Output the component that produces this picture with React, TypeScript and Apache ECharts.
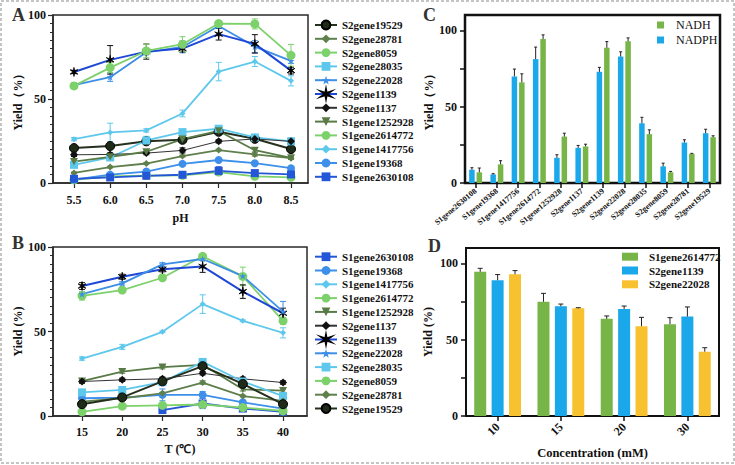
import React, { useEffect, useRef } from 'react';
import * as echarts from 'echarts';

const FONT = 'Liberation Serif';

// ---------- Panel A (pH) ----------
const phValues = [5.5, 6.0, 6.5, 7.0, 7.5, 8.0, 8.5];
const panelALegend = ['S2gene19529', 'S2gene28781', 'S2gene8059', 'S2gene28035', 'S2gene22028', 'S2gene1139', 'S2gene1137', 'S1gene1252928', 'S1gene2614772', 'S1gene1417756', 'S1gene19368', 'S1gene2630108'];
const phS2gene19529 = [20.8, 22.0, 24.8, 25.7, 30.5, 26.3, 20.2];
const phS2gene28781 = [6.0, 9.5, 11.6, 16.0, 19.6, 17.0, 14.8];
const phS2gene8059 = [1.8, 4.0, 4.4, 4.6, 6.5, 4.0, 3.4];
const phS2gene28035 = [10.8, 15.2, 25.3, 30.3, 32.3, 27.1, 24.8];
const phS2gene22028 = [58.2, 63.0, 77.8, 81.0, 93.5, 81.2, 72.7];
const phS2gene1139 = [66.1, 73.3, 78.2, 80.0, 88.6, 82.8, 66.9];
const phS2gene1137 = [16.8, 17.0, 17.8, 19.4, 24.8, 26.2, 24.8];
const phS1gene1252928 = [12.7, 15.5, 18.6, 26.1, 31.0, 19.5, 15.0];
const phS1gene2614772 = [57.8, 68.7, 78.6, 82.6, 94.9, 94.7, 76.0];
const phS1gene1417756 = [26.1, 30.1, 31.3, 41.4, 66.3, 72.3, 60.8];
const phS1gene19368 = [2.0, 5.0, 6.8, 11.4, 13.7, 11.8, 8.8];
const phS1gene2630108 = [2.5, 3.3, 4.3, 4.9, 7.2, 5.9, 5.1];
const phErrS2gene19529 = [1.5, 1.5, 1, 1, 1, 1.5, 1.5];
const phErrS2gene28781 = [0.5, 0.5, 0.5, 0.5, 0.5, 1, 0.5];
const phErrS2gene8059 = [0.5, 0.5, 0.5, 0.5, 1, 0.5, 0.5];
const phErrS2gene28035 = [1, 1, 2.5, 1.5, 1.5, 1.5, 2];
const phErrS2gene22028 = [1.5, 2.5, 1.5, 3.5, 1.5, 3.5, 1.5];
const phErrS2gene1139 = [1, 8.5, 4.5, 2, 3.5, 5.5, 2];
const phErrS2gene1137 = [1, 1, 1, 1.5, 1, 1, 1];
const phErrS1gene1252928 = [1, 1, 1, 1.5, 1.5, 1, 1];
const phErrS1gene2614772 = [1.5, 3, 4, 4.5, 1.5, 3, 6.5];
const phErrS1gene1417756 = [1, 5.5, 1, 2, 5.5, 3, 3];
const phErrS1gene19368 = [0.5, 0.5, 1, 1, 1, 1, 1];
const phErrS1gene2630108 = [1, 1, 1, 1, 2.5, 1, 1];

// ---------- Panel B (temperature) ----------
const tempValues = [15, 20, 25, 30, 35, 40];
const panelBLegend = ['S1gene2630108', 'S1gene19368', 'S1gene1417756', 'S1gene2614772', 'S1gene1252928', 'S2gene1137', 'S2gene1139', 'S2gene22028', 'S2gene28035', 'S2gene8059', 'S2gene28781', 'S2gene19529'];
const tS1gene2630108 = [null, null, 3.5, 7.4, 4.4, 2.5];
const tS1gene19368 = [10.5, 10.9, 12.5, 12.5, 8.1, 4.4];
const tS1gene1417756 = [34.0, 40.9, 49.8, 66.2, 56.3, 49.2];
const tS1gene2614772 = [71.1, 74.5, 81.8, 94.5, 82.6, 56.3];
const tS1gene1252928 = [20.6, 26.3, 28.9, 30.3, 15.8, 15.0];
const tS2gene1137 = [20.4, 21.4, 22.0, 25.3, 22.0, 19.8];
const tS2gene1139 = [76.9, 82.4, 86.8, 88.5, 73.6, 60.8];
const tS2gene22028 = [72.1, 78.5, 89.7, 92.9, 82.8, 61.8];
const tS2gene28035 = [14.0, 15.4, 20.0, 32.0, 20.4, 11.8];
const tS2gene8059 = [2.5, 5.8, 6.3, 6.8, 5.0, 3.0];
const tS2gene28781 = [8.5, 10.5, 13.4, 19.8, 11.8, 8.9];
const tS2gene19529 = [7.0, 11.0, 20.5, 29.5, 19.0, 7.0];
const tErrS1gene2630108 = [0, 0, 1, 3, 1, 1];
const tErrS1gene19368 = [1, 1, 3.5, 2, 1, 1];
const tErrS1gene1417756 = [1, 1.5, 0.5, 5.5, 0.5, 3];
const tErrS1gene2614772 = [2.5, 1.5, 1, 1.5, 5.5, 2];
const tErrS1gene1252928 = [1, 1, 1, 1, 1, 1];
const tErrS2gene1137 = [1, 1, 1, 1, 1, 1];
const tErrS2gene1139 = [2, 1.5, 1.5, 3.5, 4, 3];
const tErrS2gene22028 = [1, 1, 1, 1, 1.5, 6];
const tErrS2gene28035 = [1, 1, 1, 2, 1, 2];
const tErrS2gene8059 = [0.5, 0.5, 0.5, 0.5, 0.5, 0.5];
const tErrS2gene28781 = [0.5, 0.5, 0.5, 1, 0.5, 0.5];
const tErrS2gene19529 = [1, 1, 1, 1.5, 1, 1];

// ---------- Panel C (cofactor) ----------
const cGenes = ['S1gene2630108', 'S1gene19368', 'S1gene1417756', 'S1gene2614772', 'S1gene1252928', 'S2gene1137', 'S2gene1139', 'S2gene22028', 'S2gene28035', 'S2gene8059', 'S2gene28781', 'S2gene19529'];
const cNADPH = [8.7, 5.6, 69.8, 81.1, 16.5, 23.0, 72.8, 82.8, 39.1, 10.9, 26.5, 32.6];
const cNADPHErr = [1.3, 0.5, 4.8, 7.9, 2.0, 1.6, 2.9, 3.1, 3.9, 2.1, 1.8, 2.6];
const cNADH = [7.0, 12.2, 65.9, 94.3, 30.4, 23.9, 88.5, 92.8, 32.0, 7.0, 19.1, 30.0];
const cNADHErr = [2.8, 2.4, 5.6, 2.7, 2.2, 1.5, 4.1, 2.2, 2.8, 0.6, 0.3, 0.9];

// ---------- Panel D (concentration) ----------
const dConc = ['10', '15', '20', '30'];
const dLegend = ['S1gene2614772', 'S2gene1139', 'S2gene22028'];
const dS1gene2614772 = [94.4, 74.8, 63.6, 60.1];
const dS1gene2614772Err = [2.3, 5.5, 1.9, 4.3];
const dS2gene1139 = [88.9, 71.8, 70.1, 65.1];
const dS2gene1139Err = [3.7, 1.5, 1.9, 6.3];
const dS2gene22028 = [92.8, 70.5, 58.8, 42.1];
const dS2gene22028Err = [2.4, 0.4, 5.8, 2.6];

const phData: Record<string, (number | null)[][]> = {
  S2gene19529: [phS2gene19529, phErrS2gene19529],
  S2gene28781: [phS2gene28781, phErrS2gene28781],
  S2gene8059: [phS2gene8059, phErrS2gene8059],
  S2gene28035: [phS2gene28035, phErrS2gene28035],
  S2gene22028: [phS2gene22028, phErrS2gene22028],
  S2gene1139: [phS2gene1139, phErrS2gene1139],
  S2gene1137: [phS2gene1137, phErrS2gene1137],
  S1gene1252928: [phS1gene1252928, phErrS1gene1252928],
  S1gene2614772: [phS1gene2614772, phErrS1gene2614772],
  S1gene1417756: [phS1gene1417756, phErrS1gene1417756],
  S1gene19368: [phS1gene19368, phErrS1gene19368],
  S1gene2630108: [phS1gene2630108, phErrS1gene2630108],
};
const tData: Record<string, (number | null)[][]> = {
  S1gene2630108: [tS1gene2630108, tErrS1gene2630108],
  S1gene19368: [tS1gene19368, tErrS1gene19368],
  S1gene1417756: [tS1gene1417756, tErrS1gene1417756],
  S1gene2614772: [tS1gene2614772, tErrS1gene2614772],
  S1gene1252928: [tS1gene1252928, tErrS1gene1252928],
  S2gene1137: [tS2gene1137, tErrS2gene1137],
  S2gene1139: [tS2gene1139, tErrS2gene1139],
  S2gene22028: [tS2gene22028, tErrS2gene22028],
  S2gene28035: [tS2gene28035, tErrS2gene28035],
  S2gene8059: [tS2gene8059, tErrS2gene8059],
  S2gene28781: [tS2gene28781, tErrS2gene28781],
  S2gene19529: [tS2gene19529, tErrS2gene19529],
};

const ASTERISK = 'path://M5 0 L5.65 3.87 L9.33 2.5 L6.3 5 L9.33 7.5 L5.65 6.13 L5 10 L4.35 6.13 L0.67 7.5 L3.7 5 L0.67 2.5 L4.35 3.87 Z';
const STAR = 'path://M5 0 L6.2 3.6 L10 3.6 L7 5.9 L8.1 9.5 L5 7.3 L1.9 9.5 L3 5.9 L0 3.6 L3.8 3.6 Z';
const TRI_DOWN = 'path://M0 0 L10 0 L5 9 Z';

const geneStyle: Record<string, any> = {
  S2gene19529: { symbol: 'circle', size: 9, fill: '#1f2b19', border: '#000', bw: 1, line: '#26301f', lw: 2, err: '#222' },
  S2gene28781: { symbol: 'diamond', size: 7, fill: '#5f7f4c', border: '#5f7f4c', bw: 0, line: '#5f7f4c', lw: 1.8, err: '#5f7f4c' },
  S2gene8059: { symbol: 'circle', size: 9, fill: '#7dd16b', border: '#7dd16b', bw: 0, line: '#7dd16b', lw: 1.8, err: '#7dd16b' },
  S2gene28035: { symbol: 'rect', size: 8, fill: '#5ec8ec', border: '#5ec8ec', bw: 0, line: '#5ec8ec', lw: 1.8, err: '#5ec8ec' },
  S2gene22028: { symbol: STAR, size: 7, fill: '#3d8ee6', border: '#3d8ee6', bw: 0, line: '#3d8ee6', lw: 1.8, err: '#3d8ee6' },
  S2gene1139: { symbol: ASTERISK, size: 9, fill: '#000', border: '#000', bw: 0.8, line: '#1f48d6', lw: 2, err: '#111' },
  S2gene1137: { symbol: 'diamond', size: 8, fill: '#111', border: '#000', bw: 0, line: '#333', lw: 1, err: '#111' },
  S1gene1252928: { symbol: TRI_DOWN, size: 8, fill: '#587a46', border: '#587a46', bw: 0, line: '#587a46', lw: 1.8, err: '#587a46' },
  S1gene2614772: { symbol: 'circle', size: 9, fill: '#7dd16b', border: '#7dd16b', bw: 0, line: '#7dd16b', lw: 1.8, err: '#7dd16b' },
  S1gene1417756: { symbol: 'diamond', size: 6, fill: '#5ec8ec', border: '#5ec8ec', bw: 0, line: '#5ec8ec', lw: 1.8, err: '#5ec8ec' },
  S1gene19368: { symbol: 'circle', size: 8, fill: '#3d8fe9', border: '#3d8fe9', bw: 0, line: '#3d8fe9', lw: 1.8, err: '#3d8fe9' },
  S1gene2630108: { symbol: 'rect', size: 8, fill: '#2456d8', border: '#2456d8', bw: 0, line: '#2456d8', lw: 1.8, err: '#2456d8' },
};

const GREEN = '#78b548';
const BLUE = '#1aa8ea';
const YELLOW = '#f7c12f';
const AXIS = '#2a2a2a';
const FS = 12;
const LEG_FS = 11;

const boldText = { fontFamily: FONT, fontWeight: 'bold', fontSize: FS, color: '#111' };

function buildLineSeries(prefix: string, order: string[], xs: number[], table: Record<string, (number | null)[][]>, g: number) {
  const series: any[] = [];
  const errData: any[] = [];
  const errColors: string[] = [];
  order.forEach((name) => {
    const st = geneStyle[name];
    const [ys, es] = table[name];
    const pts: any[] = [];
    xs.forEach((x, i) => {
      const y = ys[i];
      if (y === null || y === undefined) return;
      pts.push([x, y]);
      errData.push([x, y, es[i] as number]);
      errColors.push(st.err);
    });
    series.push({
      type: 'line',
      name: prefix + name,
      xAxisIndex: g,
      yAxisIndex: g,
      data: pts,
      symbol: st.symbol,
      symbolSize: st.size,
      symbolKeepAspect: true,
      showAllSymbol: true,
      lineStyle: { color: st.line, width: st.lw },
      itemStyle: { color: st.fill, borderColor: st.border, borderWidth: st.bw },
      emphasis: { disabled: true },
      z: 3,
    });
  });
  series.push({
    type: 'custom',
    name: prefix + 'err',
    xAxisIndex: g,
    yAxisIndex: g,
    coordinateSystem: 'cartesian2d',
    encode: { x: 0, y: 1 },
    data: errData,
    silent: true,
    z: 2,
    renderItem: (params: any, api: any) => {
      const x = api.value(0), y = api.value(1), e = api.value(2);
      const c = errColors[params.dataIndex];
      const p1 = api.coord([x, y + e]);
      const p2 = api.coord([x, Math.max(0, y - e)]);
      const hw = 3;
      const st = { stroke: c, lineWidth: 1 };
      return {
        type: 'group',
        children: [
          { type: 'line', shape: { x1: p1[0], y1: p1[1], x2: p2[0], y2: p2[1] }, style: st },
          { type: 'line', shape: { x1: p1[0] - hw, y1: p1[1], x2: p1[0] + hw, y2: p1[1] }, style: st },
          { type: 'line', shape: { x1: p2[0] - hw, y1: p2[1], x2: p2[0] + hw, y2: p2[1] }, style: st },
        ],
      };
    },
  });
  return series;
}

function barErrSeries(g: number, groups: { values: number[]; errs: number[] }[], barWidth: number, gapRatio: number, capHalf: number) {
  const data: any[] = [];
  groups.forEach((grp, slot) => {
    grp.values.forEach((v, i) => data.push([i, v, grp.errs[i], slot]));
  });
  const n = groups.length;
  const gap = barWidth * gapRatio;
  const total = n * barWidth + (n - 1) * gap;
  return {
    type: 'custom',
    xAxisIndex: g,
    yAxisIndex: g,
    coordinateSystem: 'cartesian2d',
    encode: { x: 0, y: 1 },
    data,
    silent: true,
    z: 4,
    renderItem: (params: any, api: any) => {
      const i = api.value(0), v = api.value(1), e = api.value(2), slot = api.value(3);
      const base = api.coord([i, v]);
      const top = api.coord([i, v + e]);
      const off = -total / 2 + barWidth / 2 + slot * (barWidth + gap);
      const x = base[0] + off;
      const st = { stroke: '#222', lineWidth: 1 };
      return {
        type: 'group',
        children: [
          { type: 'line', shape: { x1: x, y1: base[1], x2: x, y2: top[1] }, style: st },
          { type: 'line', shape: { x1: x - capHalf, y1: top[1], x2: x + capHalf, y2: top[1] }, style: st },
        ],
      };
    },
  };
}

function lineLegend(prefix: string, names: string[], top: number) {
  return {
    orient: 'vertical',
    left: 314,
    top,
    padding: 0,
    itemWidth: 22,
    itemHeight: 11,
    itemGap: 1.8,
    data: names.map((n) => prefix + n),
    formatter: (n: string) => n.slice(prefix.length),
    textStyle: { ...boldText, fontSize: LEG_FS, lineHeight: 12 },
    selectedMode: false,
  };
}

const valueYAxis = (g: number, name: string, gap: number) => ({
  type: 'value',
  gridIndex: g,
  min: 0,
  max: 100,
  interval: 50,
  name,
  nameLocation: 'middle',
  nameRotate: 90,
  nameGap: gap,
  nameTextStyle: boldText,
  splitLine: { show: false },
  axisLine: { show: true, lineStyle: { color: AXIS, width: 1.5 } },
  axisTick: { show: true, length: 5, lineStyle: { color: AXIS, width: 1.2 } },
  minorTick: { show: true, splitNumber: 10, length: 3, lineStyle: { color: AXIS, width: 1 } },
  minorSplitLine: { show: false },
  axisLabel: { ...boldText, margin: 7 },
});

const barYAxis = (g: number, name: string, gap: number) => ({
  type: 'value',
  gridIndex: g,
  min: 0,
  max: 110,
  name,
  nameLocation: 'middle',
  nameRotate: 90,
  nameGap: gap,
  nameTextStyle: boldText,
  splitLine: { show: false },
  axisLine: { show: true, lineStyle: { color: '#111', width: 2 } },
  axisTick: { show: true, length: 5, customValues: [0, 25, 50, 75, 100], lineStyle: { color: '#111', width: 1.5 } },
  axisLabel: { ...boldText, margin: 8, customValues: [0, 50, 100] },
});

export default function App() {
  const ref = useRef<HTMLDivElement>(null);
  useEffect(() => {
    document.body.style.margin = '0';
    const chart = echarts.init(ref.current!, undefined, { renderer: 'svg' });
    const seriesA = buildLineSeries('A:', panelALegend, phValues, phData, 0);
    const seriesB = buildLineSeries('B:', panelBLegend, tempValues, tData, 1);
    const option: any = {
      animation: false,
      backgroundColor: '#fff',
      textStyle: { fontFamily: FONT },
      grid: [
        { left: 53, top: 15, width: 255, height: 168, show: true, borderColor: AXIS, borderWidth: 1.5, backgroundColor: 'transparent' },
        { left: 53, top: 247, width: 254, height: 169, show: true, borderColor: AXIS, borderWidth: 1.5, backgroundColor: 'transparent' },
        { left: 465, top: 15, width: 255, height: 168, show: true, borderColor: '#111', borderWidth: 2.5, backgroundColor: 'transparent' },
        { left: 466, top: 248, width: 253, height: 168, show: true, borderColor: '#111', borderWidth: 2, backgroundColor: 'transparent' },
      ],
      xAxis: [
        {
          type: 'value', gridIndex: 0, min: 5.21, max: 8.735,
          name: 'pH', nameLocation: 'middle', nameGap: 29, nameTextStyle: boldText,
          splitLine: { show: false },
          axisLine: { show: true, lineStyle: { color: AXIS, width: 1.5 } },
          axisTick: { show: true, length: 5, customValues: phValues, lineStyle: { color: AXIS, width: 1.2 } },
          axisLabel: { ...boldText, margin: 11, customValues: phValues, formatter: (v: number) => v.toFixed(1) },
        },
        {
          type: 'value', gridIndex: 1, min: 11.39, max: 42.98,
          name: 'T (℃)', nameLocation: 'middle', nameGap: 27, nameTextStyle: boldText,
          splitLine: { show: false },
          axisLine: { show: true, lineStyle: { color: AXIS, width: 1.5 } },
          axisTick: { show: true, length: 5, customValues: tempValues, lineStyle: { color: AXIS, width: 1.2 } },
          axisLabel: { ...boldText, margin: 10, customValues: tempValues },
        },
        {
          type: 'category', gridIndex: 2, data: cGenes,
          axisLine: { show: true, lineStyle: { color: '#111', width: 2 } },
          axisTick: { show: true, alignWithLabel: true, length: 5, lineStyle: { color: '#111', width: 1.5 } },
          axisLabel: { ...boldText, fontSize: 8, rotate: 40, interval: 0, margin: 7 },
        },
        {
          type: 'category', gridIndex: 3, data: dConc,
          name: 'Concentration (mM)', nameLocation: 'middle', nameGap: 30, nameTextStyle: { ...boldText, fontSize: 12.5 },
          axisLine: { show: true, lineStyle: { color: '#111', width: 2 } },
          axisTick: { show: true, alignWithLabel: true, length: 5, lineStyle: { color: '#111', width: 1.5 } },
          axisLabel: { ...boldText, rotate: 45, interval: 0, margin: 9 },
        },
      ],
      yAxis: [
        valueYAxis(0, 'Yield（%）', 28),
        valueYAxis(1, 'Yield (%)', 28),
        barYAxis(2, 'Yield（%）', 30),
        barYAxis(3, 'Yield (%)', 32),
      ],
      legend: [
        lineLegend('A:', panelALegend, 19),
        lineLegend('B:', panelBLegend, 250.7),
        {
          orient: 'vertical', left: 657, top: 19, padding: 0, itemWidth: 7, itemHeight: 7, itemGap: 3,
          icon: 'rect', selectedMode: false,
          data: ['NADH', 'NADPH'],
          textStyle: { fontFamily: FONT, fontSize: FS, color: '#111', lineHeight: 12, padding: [0, 0, 0, 7] },
        },
        {
          orient: 'vertical', left: 622, top: 250.7, padding: 0, itemWidth: 16, itemHeight: 8, itemGap: 1.8,
          icon: 'rect', selectedMode: false,
          data: dLegend.map((n) => 'D:' + n),
          formatter: (n: string) => n.slice(2),
          textStyle: { ...boldText, fontSize: LEG_FS, lineHeight: 12, padding: [0, 0, 0, 6] },
        },
      ],
      graphic: [
        { type: 'rect', shape: { x: 1, y: 1, width: 733, height: 462 }, style: { fill: 'none', stroke: '#8a8a8a', lineWidth: 1, lineDash: [3, 2] }, silent: true },
        { type: 'text', left: 12, top: 6, style: { text: 'A', font: `bold 18px ${FONT}`, fill: '#333' } },
        { type: 'text', left: 12, top: 234, style: { text: 'B', font: `bold 18px ${FONT}`, fill: '#333' } },
        { type: 'text', left: 423, top: 6, style: { text: 'C', font: `bold 18px ${FONT}`, fill: '#333' } },
        { type: 'text', left: 428, top: 237, style: { text: 'D', font: `bold 18px ${FONT}`, fill: '#333' } },
      ],
      series: [
        ...seriesA,
        ...seriesB,
        {
          type: 'bar', name: 'NADPH', xAxisIndex: 2, yAxisIndex: 2, data: cNADPH,
          barWidth: 5.5, barGap: '35%', itemStyle: { color: BLUE }, z: 3,
        },
        {
          type: 'bar', name: 'NADH', xAxisIndex: 2, yAxisIndex: 2, data: cNADH,
          barWidth: 5.5, barGap: '35%', itemStyle: { color: GREEN }, z: 3,
        },
        barErrSeries(2, [{ values: cNADPH, errs: cNADPHErr }, { values: cNADH, errs: cNADHErr }], 5.5, 0.35, 1.5),
        {
          type: 'bar', name: 'D:S1gene2614772', xAxisIndex: 3, yAxisIndex: 3, data: dS1gene2614772,
          barWidth: 12, barGap: '45%', itemStyle: { color: GREEN }, z: 3,
        },
        {
          type: 'bar', name: 'D:S2gene1139', xAxisIndex: 3, yAxisIndex: 3, data: dS2gene1139,
          barWidth: 12, barGap: '45%', itemStyle: { color: BLUE }, z: 3,
        },
        {
          type: 'bar', name: 'D:S2gene22028', xAxisIndex: 3, yAxisIndex: 3, data: dS2gene22028,
          barWidth: 12, barGap: '45%', itemStyle: { color: YELLOW }, z: 3,
        },
        barErrSeries(3, [
          { values: dS1gene2614772, errs: dS1gene2614772Err },
          { values: dS2gene1139, errs: dS2gene1139Err },
          { values: dS2gene22028, errs: dS2gene22028Err },
        ], 12, 0.45, 2.5),
      ],
    };
    chart.setOption(option);
    return () => chart.dispose();
  }, []);
  return <div ref={ref} style={{ position: 'fixed', left: 0, top: 0, width: 735, height: 465, background: '#fff' }} />;
}
